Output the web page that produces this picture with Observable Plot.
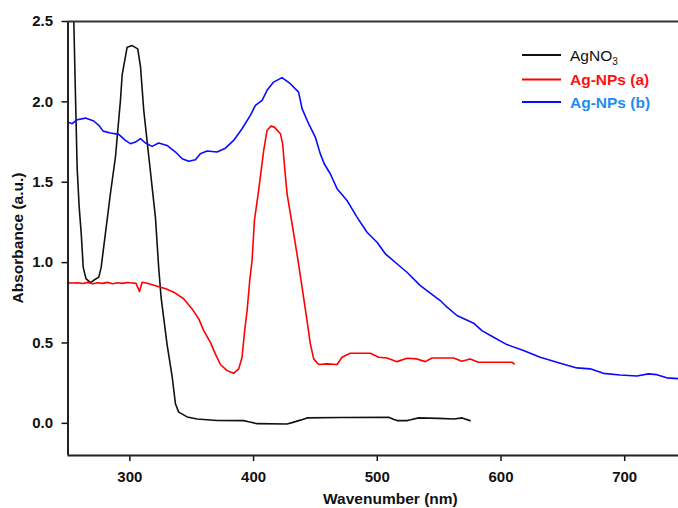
<!DOCTYPE html>
<html>
<head>
<meta charset="utf-8">
<script src="https://cdn.jsdelivr.net/npm/d3@7"></script>
<script src="https://cdn.jsdelivr.net/npm/@observablehq/plot@0.6"></script>
<style>
  html, body { margin: 0; padding: 0; background: #fff; }
  #chart { width: 678px; height: 508px; }
</style>
</head>
<body>
<div id="chart"></div>
<script>
// ---- data ----
const seriesNames = ["AgNO3", "Ag-NPs (a)", "Ag-NPs (b)"];
const lineColors = ["#111111", "#ff0000", "#0a0aff"];
const labelColors = ["#111111", "#ff1010", "#1e8cf0"];

const xTicks = [300, 400, 500, 600, 700];
const yTicks = [0.0, 0.5, 1.0, 1.5, 2.0, 2.5];

const agno3Wl = [253.5,254.7,256.0,257.4,259.0,260.7,262.3,264.5,268.2,270.8,274.9,276.8,278.9,284.3,288.4,292.4,293.8,297.8,301.9,306.4,308.6,311.2,315.3,320.7,323.3,325.3,330.1,334.2,336.9,339.5,346.3,354.4,370.5,392.0,396.0,402.8,427.1,431.8,437.8,443.2,470.0,509.7,513.0,516.0,524.0,527.0,533.5,549.5,562.2,568.6,575.0];
const agno3Abs = [2.8,2.5,2.05,1.59,1.35,1.18,0.97,0.9,0.875,0.89,0.91,0.97,1.10,1.43,1.66,2.01,2.17,2.34,2.35,2.33,2.22,1.95,1.66,1.28,0.97,0.78,0.49,0.29,0.12,0.07,0.04,0.027,0.018,0.017,0.01,-0.002,-0.004,0.006,0.02,0.034,0.036,0.037,0.025,0.017,0.017,0.022,0.034,0.031,0.027,0.034,0.017];

const npaWl = [250,254,258,262,266,270,274,278,282,286,290,294,298,302,305,307.8,309.9,314,322.1,329,335.5,343.5,350.3,355.7,359.7,365.1,369.1,373.2,378.6,383.9,388.0,390.7,392.8,394.8,396.9,398.8,400.7,404.1,408.2,410.9,414.1,416.8,421.7,423.5,425.1,427.1,431.1,435.1,439.2,443.2,445.9,448.6,452.6,459.4,467.5,471.5,478.2,494.4,501.1,507.9,515.9,524.0,532.1,538.8,544.2,561.7,568.4,575.1,581.8,608.8,610.7];
const npaAbs = [0.874,0.873,0.875,0.870,0.877,0.868,0.875,0.871,0.877,0.869,0.875,0.871,0.876,0.873,0.871,0.82,0.878,0.872,0.853,0.838,0.816,0.775,0.712,0.65,0.577,0.504,0.432,0.366,0.328,0.311,0.339,0.411,0.577,0.702,0.889,1.013,1.262,1.449,1.698,1.823,1.849,1.843,1.802,1.74,1.594,1.428,1.242,1.055,0.847,0.64,0.494,0.401,0.366,0.37,0.366,0.411,0.436,0.436,0.411,0.407,0.384,0.405,0.401,0.384,0.407,0.407,0.386,0.401,0.38,0.38,0.37];

const npbWl = [250,253.4,257.4,264.1,270.8,274.9,278.4,284.3,291.0,296.4,300.5,304.5,308.6,312.6,318.0,323.3,330.1,336.9,342.3,347.6,353.0,357.0,362.4,370.5,377.2,383.9,390.7,397.4,401.5,406.9,410.9,416.2,423.0,429.7,436.4,439.2,444.5,449.9,453.9,457.1,462.0,467.5,475.5,483.6,491.7,499.8,506.5,515.9,524.0,534.8,545.5,550.9,555.0,564.4,577.9,584.6,594.0,604.8,618.2,631.7,647.9,661.3,672.1,682.8,696.3,709.8,719.2,726.0,734.0,743.5];
const npbAbs = [1.874,1.864,1.889,1.899,1.881,1.854,1.818,1.806,1.798,1.760,1.740,1.750,1.771,1.744,1.723,1.744,1.729,1.688,1.646,1.630,1.640,1.678,1.694,1.688,1.712,1.760,1.833,1.916,1.978,2.009,2.072,2.123,2.151,2.113,2.061,1.958,1.864,1.781,1.678,1.615,1.553,1.460,1.387,1.283,1.189,1.127,1.055,0.993,0.940,0.857,0.795,0.764,0.733,0.671,0.623,0.577,0.536,0.490,0.453,0.411,0.374,0.345,0.339,0.311,0.301,0.295,0.308,0.303,0.283,0.278];

const xDomain = [250, 743.5];
const yDomain = [-0.2, 2.5];

// ---- build table ----
const wls = [agno3Wl, npaWl, npbWl];
const abss = [agno3Abs, npaAbs, npbAbs];
const rows = [];
seriesNames.forEach((s, i) => {
  wls[i].forEach((w, j) => rows.push({series: s, wl: w, abs: abss[i][j]}));
});

const font = "'Liberation Sans', Arial, sans-serif";

const chart = Plot.plot({
  width: 678,
  height: 508,
  marginLeft: 67.5,
  marginRight: 0,
  marginTop: 21,
  marginBottom: 53,
  style: {fontFamily: font, fontSize: "15px", fontWeight: "bold", color: "#111", background: "#fff", overflow: "visible"},
  x: {domain: xDomain},
  y: {domain: yDomain},
  color: {domain: seriesNames, range: lineColors},
  marks: [
    Plot.axisX({ticks: xTicks, tickFormat: d3.format("d"), tickSize: 6, tickPadding: 10, label: null, strokeWidth: 1.5}),
    Plot.axisY({ticks: yTicks, tickFormat: d3.format(".1f"), tickSize: 6, tickPadding: 9, label: null, strokeWidth: 1.5}),
    Plot.line(rows, {x: "wl", y: "abs", z: "series", stroke: "series", strokeWidth: 1.6, clip: true, curve: "linear"}),
    Plot.ruleX([xDomain[0]], {stroke: "#222", strokeWidth: 2}),
    Plot.ruleY([yDomain[0]], {stroke: "#222", strokeWidth: 2}),
    Plot.ruleY([yDomain[1]], {stroke: "#333", strokeWidth: 1.8})
  ]
});

document.getElementById("chart").appendChild(chart);

// ---- axis titles ----
const svg = d3.select(chart);
const xs = chart.scale("x");
const ys = chart.scale("y");

svg.append("text")
  .attr("transform", `translate(${xs.apply(511)},499)`)
  .attr("text-anchor", "middle")
  .attr("dy", "0.35em")
  .attr("font-family", font).attr("font-size", 15.5).attr("font-weight", "bold")
  .attr("fill", "#111")
  .text("Wavenumber (nm)");

svg.append("text")
  .attr("transform", `translate(18,${ys.apply(1.15)}) rotate(-90)`)
  .attr("text-anchor", "middle")
  .attr("dy", "0.35em")
  .attr("font-family", font).attr("font-size", 15.5).attr("font-weight", "bold")
  .attr("fill", "#111")
  .text("Absorbance (a.u.)");

// ---- legend ----
const legendY = [55, 79.5, 102];
const lg = svg.append("g").attr("text-anchor", "start");
seriesNames.forEach((s, i) => {
  lg.append("line")
    .attr("x1", 522).attr("x2", 561)
    .attr("y1", legendY[i]).attr("y2", legendY[i])
    .attr("stroke", lineColors[i]).attr("stroke-width", 1.8);
  const t = lg.append("text")
    .attr("x", 570).attr("y", legendY[i] + 5.5)
    .attr("text-anchor", "start")
    .attr("font-family", font).attr("font-size", 15.5)
    .attr("font-weight", i === 0 ? "normal" : "bold")
    .attr("fill", labelColors[i]);
  if (i === 0) {
    t.append("tspan").text("AgNO");
    t.append("tspan").attr("dy", 4).attr("font-size", 10).text("3");
  } else {
    t.text(s);
  }
});
</script>
</body>
</html>
